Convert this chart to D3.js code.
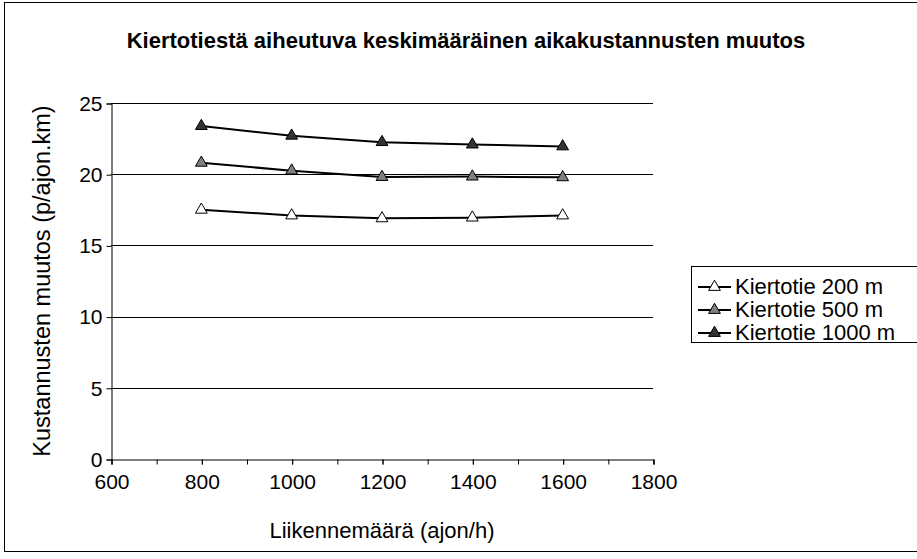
<!DOCTYPE html>
<html>
<head>
<meta charset="utf-8">
<script src="https://cdn.jsdelivr.net/npm/d3@7/dist/d3.min.js"></script>
<style>
  html, body { margin: 0; padding: 0; background: #fff; }
  svg { display: block; font-family: "Liberation Sans", Arial, sans-serif; }
</style>
</head>
<body>
<svg id="chart" width="917" height="559"></svg>
<script>
const title = "Kiertotiestä aiheutuva keskimääräinen aikakustannusten muutos";
const xTitle = "Liikennemäärä (ajon/h)";
const yTitle = "Kustannusten muutos (p/ajon.km)";
const xValues = [800, 1000, 1200, 1400, 1600];
const seriesNames = ["Kiertotie 200 m", "Kiertotie 500 m", "Kiertotie 1000 m"];
const series200 = [17.5, 17.1, 16.9, 16.95, 17.1];
const series500 = [20.8, 20.25, 19.8, 19.83, 19.78];
const series1000 = [23.38, 22.7, 22.25, 22.08, 21.95];
const seriesColors = ["#ffffff", "#808080", "#333333"];
const xTicks = [600, 800, 1000, 1200, 1400, 1600, 1800];
const xMinorTicks = [600, 700, 800, 900, 1000, 1100, 1200, 1300, 1400, 1500, 1600, 1700, 1800];
const yTicks = [0, 5, 10, 15, 20, 25];

const seriesData = [series200, series500, series1000];

const svg = d3.select("#chart");
const FS = 21;

// outer border
svg.append("rect").attr("x", 4.5).attr("y", 2.5).attr("width", 930).attr("height", 549)
  .attr("fill", "#fff").attr("stroke", "#000").attr("stroke-width", 1);

const plot = { left: 111, right: 653, top: 103, bottom: 459 };
const x = d3.scaleLinear().domain([600, 1800]).range([plot.left, plot.right]);
const y = d3.scaleLinear().domain([0, 25]).range([plot.bottom, plot.top]);

// gridlines
svg.append("g").selectAll("line").data(yTicks.filter(d => d > 0)).join("line")
  .attr("x1", plot.left).attr("x2", plot.right)
  .attr("y1", d => Math.round(y(d)) + 0.5).attr("y2", d => Math.round(y(d)) + 0.5)
  .attr("stroke", "#000").attr("stroke-width", 1);

// y axis
const yAxis = d3.axisLeft(y).tickValues(yTicks).tickSize(5).tickPadding(4).tickFormat(d3.format("d"));
const gy = svg.append("g").attr("transform", `translate(${plot.left + 0.5},0.5)`).call(yAxis);
gy.select(".domain").attr("stroke", "#000");
gy.selectAll("text").attr("font-size", FS).attr("fill", "#000").attr("font-family", "Liberation Sans, Arial, sans-serif");

// x axis (minor ticks)
const xAxisMinor = d3.axisBottom(x).tickValues(xMinorTicks).tickSize(5).tickFormat("");
const gxm = svg.append("g").attr("transform", `translate(0.5,${plot.bottom + 0.5})`).call(xAxisMinor);
gxm.select(".domain").attr("stroke", "#000");
const xAxis = d3.axisBottom(x).tickValues(xTicks).tickSize(5).tickPadding(10).tickFormat(d3.format("d"));
const gx = svg.append("g").attr("transform", `translate(0.5,${plot.bottom + 0.5})`).call(xAxis);
gx.select(".domain").remove();
gx.selectAll("text").attr("font-size", FS).attr("fill", "#000").attr("font-family", "Liberation Sans, Arial, sans-serif");

// titles
svg.append("text").attr("x", 466).attr("y", 48).attr("text-anchor", "middle")
  .attr("font-size", 22).attr("font-weight", "bold").text(title);
svg.append("text").attr("x", 382).attr("y", 538).attr("text-anchor", "middle")
  .attr("font-size", 22).text(xTitle);
svg.append("text").attr("transform", "translate(50,281) rotate(-90)").attr("text-anchor", "middle")
  .attr("font-size", 23.5).text(yTitle);

// lines
const line = d3.line().x((d, i) => x(xValues[i])).y(d => y(d));
const tri = d3.symbol().type(d3.symbolTriangle).size(60);
seriesData.forEach((vals, si) => {
  svg.append("path").datum(vals).attr("d", line).attr("fill", "none")
    .attr("stroke", "#000").attr("stroke-width", 2);
  svg.append("g").selectAll("path").data(vals).join("path")
    .attr("transform", (d, i) => `translate(${x(xValues[i])},${y(d)})`)
    .attr("d", tri).attr("fill", seriesColors[si]).attr("stroke", "#000").attr("stroke-width", 1);
});

// legend
const lg = svg.append("g");
lg.append("rect").attr("x", 691.5).attr("y", 266.5).attr("width", 240).attr("height", 76)
  .attr("fill", "#fff").attr("stroke", "#000");
seriesNames.forEach((name, i) => {
  const cy = 287 + i * 23;
  lg.append("line").attr("x1", 698).attr("x2", 731).attr("y1", cy).attr("y2", cy)
    .attr("stroke", "#000").attr("stroke-width", 2);
  lg.append("path").attr("transform", `translate(714.5,${cy})`).attr("d", tri)
    .attr("fill", seriesColors[i]).attr("stroke", "#000");
  lg.append("text").attr("x", 735).attr("y", cy + 7).attr("font-size", 22).text(name);
});
</script>
</body>
</html>
